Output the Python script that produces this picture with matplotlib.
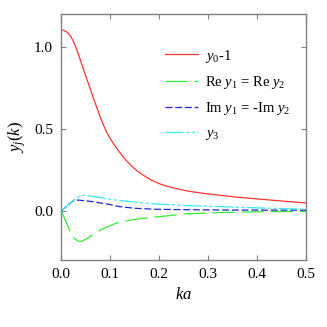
import numpy as np
import matplotlib
matplotlib.use("Agg")
import matplotlib.pyplot as plt

plt.rcParams['font.family'] = ['Liberation Serif', 'DejaVu Serif']
plt.rcParams['mathtext.fontset'] = 'custom'
plt.rcParams['mathtext.rm'] = 'Liberation Serif'
plt.rcParams['mathtext.it'] = 'Liberation Serif:italic'
plt.rcParams['lines.scale_dashes'] = False

# values
red_ka = [0, 0.004, 0.01, 0.014, 0.019, 0.024, 0.029, 0.034, 0.044, 0.055,
          0.068, 0.080, 0.087, 0.093, 0.099, 0.105, 0.112, 0.12, 0.13, 0.147,
          0.16, 0.181, 0.2, 0.215, 0.23, 0.256, 0.28, 0.303, 0.33, 0.351,
          0.38, 0.419, 0.45, 0.5]
red_y = [1.105, 1.103, 1.095, 1.085, 1.066, 1.04, 1.005, 0.963, 0.875, 0.78,
         0.668, 0.568, 0.517, 0.479, 0.446, 0.417, 0.386, 0.354, 0.316, 0.264,
         0.232, 0.192, 0.166, 0.151, 0.139, 0.122, 0.111, 0.102, 0.093, 0.086,
         0.078, 0.068, 0.060, 0.048]

green_ka = [0, 0.017, 0.026, 0.036, 0.042, 0.048, 0.056, 0.065, 0.08, 0.095,
            0.108, 0.121, 0.15, 0.188, 0.256, 0.324, 0.4, 0.5]
green_y = [0, -0.12, -0.167, -0.187, -0.185, -0.177, -0.162, -0.142, -0.117,
           -0.096, -0.08, -0.067, -0.052, -0.039, -0.018, -0.010, -0.006, -0.003]

blue_ka = [0, 0.025, 0.035, 0.062, 0.095, 0.12, 0.15, 0.188, 0.256, 0.35, 0.5]
blue_y = [0, 0.063, 0.066, 0.057, 0.041, 0.025, 0.016, 0.010, 0.007, 0.005, 0.004]

cyan_ka = [0, 0.024, 0.035, 0.046, 0.058, 0.07, 0.095, 0.125, 0.187, 0.256,
           0.324, 0.4, 0.5]
cyan_y = [0, 0.063, 0.085, 0.095, 0.091, 0.085, 0.073, 0.061, 0.043, 0.032,
          0.026, 0.018, 0.01]

labels = ['$y_0$-1', 'Re $y_1$ = Re $y_2$', 'Im $y_1$ = -Im $y_2$', '$y_3$']
x_ticks = [0.0, 0.1, 0.2, 0.3, 0.4, 0.5]
y_ticks = [0.0, 0.5, 1.0]

fig = plt.figure(figsize=(3.27, 3.27), dpi=100)
ax = fig.add_axes([0.1875, 0.205, 0.749, 0.751])

ax.plot(red_ka, red_y, color='#ff3333', lw=0.9, label=labels[0])
ax.plot(green_ka, green_y, color='#33ee33', lw=0.9, linestyle=(0, (16, 5)),
        label=labels[1])
ax.plot(blue_ka, blue_y, color='#2222dd', lw=0.9, linestyle=(0, (5, 2)),
        label=labels[2])
ax.plot(cyan_ka, cyan_y, color='#33eeee', lw=0.9,
        linestyle=(0, (13, 2, 2, 2, 2, 2)), label=labels[3])

ax.set_xlim(0, 0.5)
ax.set_ylim(-0.3, 1.2)
ax.set_xticks(x_ticks)
ax.set_yticks(y_ticks)
ax.set_xticklabels(['%.1f' % v for v in x_ticks])
ax.set_yticklabels(['%.1f' % v for v in y_ticks])

for s in ax.spines.values():
    s.set_color('#808080')
    s.set_linewidth(1.0)
ax.tick_params(direction='in', length=3.5, width=0.8, color='#808080',
               top=True, right=True, labelsize=11, pad=6)

ax.set_xlabel('$ka$', fontsize=12, labelpad=4)
ax.set_ylabel('$y_j(k)$', fontsize=12, labelpad=4)

ax.legend(loc='upper left', bbox_to_anchor=(0.423, 0.865), frameon=False,
          fontsize=10.5, handlelength=2.3, handletextpad=0.45,
          labelspacing=0.65, borderpad=0, borderaxespad=0)

fig.savefig('out.png', dpi=100)
